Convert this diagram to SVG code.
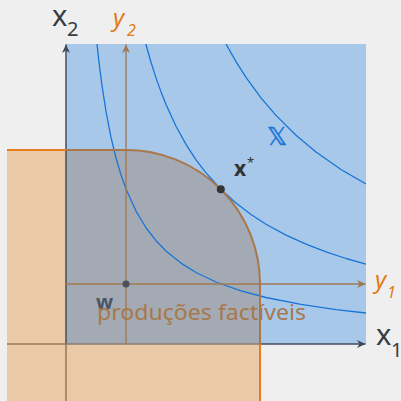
<svg xmlns="http://www.w3.org/2000/svg" width="401" height="401" viewBox="0 0 401 401">
<defs>
<clipPath id="inBlue"><rect x="66" y="44" width="300" height="300"/></clipPath>
<clipPath id="outBlue"><path d="M0,0H401V401H0Z M66,44V344H366V44Z" clip-rule="evenodd"/></clipPath>
<marker id="arDark" markerWidth="9" markerHeight="9" refX="8.5" refY="4.5" orient="auto" markerUnits="userSpaceOnUse"><path d="M0,0.5 L8.5,4.5 L0,8.5 L2.5,4.5Z" fill="#3f4858"/></marker>
<marker id="arBrown" markerWidth="9" markerHeight="9" refX="8.5" refY="4.5" orient="auto" markerUnits="userSpaceOnUse"><path d="M0,0.5 L8.5,4.5 L0,8.5 L2.5,4.5Z" fill="#a07850"/></marker>
</defs>
<style>
.curve{fill:none;stroke:#1a74d8;stroke-width:1.3;stroke-linejoin:round}
.axd{stroke:#434c5c;stroke-width:1.5;fill:none}
.axb{stroke:#9c7650;stroke-width:1.5;fill:none}
.yax{stroke:#a27a52;stroke-width:1.4;fill:none}
.lbl{font-family:"Noto Sans","Open Sans",sans-serif}
.xl{fill:#363b44}
.yl{fill:#e07b1a;font-style:italic}
</style>
<rect width="401" height="401" fill="#efefef"/>
<g id="region-X">
<rect x="66" y="44" width="300" height="300" fill="#a8c8ea"/>
</g>
<g id="region-feasible">
<path d="M7,150H126A134,134 0 0 1 260,284V401H7Z" fill="#e9c9a8" clip-path="url(#outBlue)"/>
<path d="M7,150H126A134,134 0 0 1 260,284V401H7Z" fill="#a3aab4" clip-path="url(#inBlue)"/>
</g>
<g id="curves" clip-path="url(#inBlue)">
<polyline class="curve" points="97,44 99,62.2 102,85.7 106,111.5 111,137.3 116,158 121,174.9 126,189 136,211.1 146,227.75 156,240.7 166,251 181,263.1 196,272.5 216,282 241,290.9 266,297.5 301,304.4 336,309.6 366,313"/>
<polyline class="curve" points="145.83,44 151,62.2 156,77.9 161,91.9 166,104.5 176,126.3 186,144.4 196,159.8 206,172.9 220.76,189.24 236,203.1 251,214.5 266,224.25 286,235.1 306,244.2 326,251.9 346,258.5 366,264.17"/>
<polyline class="curve" points="226,44 236,61.6 246,77.3 261,97.8 276,115.4 296,135.3 316,152 341,169.5 366,184"/>
</g>
<g id="axes">
<line class="axb" x1="66" y1="401" x2="66" y2="344"/>
<line class="axd" x1="66" y1="344" x2="66" y2="44.5" marker-end="url(#arDark)"/>
<line class="axb" x1="7" y1="344" x2="66" y2="344"/>
<line x1="66" y1="344" x2="260" y2="344" stroke="#8a7d6e" stroke-width="1.5"/>
<line class="axd" x1="260" y1="344" x2="365.5" y2="344" marker-end="url(#arDark)"/>
<line class="yax" x1="126" y1="344" x2="126" y2="44.5" marker-end="url(#arBrown)"/>
<line class="yax" x1="66" y1="284" x2="365.5" y2="284" marker-end="url(#arBrown)"/>
</g>
<g id="boundary">
<path d="M7,150H126A134,134 0 0 1 260,284V401" fill="none" stroke="#e57d1c" stroke-width="2" clip-path="url(#outBlue)"/>
<path d="M7,150H126A134,134 0 0 1 260,284V401" fill="none" stroke="#a8784a" stroke-width="2" clip-path="url(#inBlue)"/>
</g>
<g id="label-X">
<text x="267" y="145" font-family="DejaVu Sans,sans-serif" font-size="25" fill="#1a74d8" stroke="#1a74d8" stroke-width="0.5">𝕏</text>
</g>
<g id="point-xstar">
<circle cx="220.8" cy="189.2" r="4" fill="#333"/>
<text class="lbl" x="234" y="176" font-size="21" font-weight="bold" fill="#333">x</text>
<text class="lbl" x="247" y="167" font-size="13" fill="#333">*</text>
</g>
<g id="point-w">
<circle cx="126" cy="284" r="3.5" fill="#4a505c"/>
<text class="lbl" x="96" y="309" font-size="20" font-weight="bold" fill="#4b5566">w</text>
</g>
<g id="label-feasible">
<text class="lbl" x="97" y="320" font-size="22" fill="#a8784a" textLength="209" lengthAdjust="spacingAndGlyphs">produções factíveis</text>
</g>
<g id="axis-labels">
<text class="lbl xl" x="52" y="26" font-size="29">x</text>
<text class="lbl xl" x="67" y="36" font-size="20">2</text>
<text class="lbl yl" x="113" y="26" font-size="24">y</text>
<text class="lbl yl" x="127" y="36" font-size="16" font-style="normal">2</text>
<text class="lbl yl" x="375" y="288" font-size="24">y</text>
<text class="lbl yl" x="387" y="298" font-size="16" font-style="normal">1</text>
<text class="lbl xl" x="376" y="345" font-size="29">x</text>
<text class="lbl xl" x="391" y="357" font-size="20">1</text>
</g>
</svg>
